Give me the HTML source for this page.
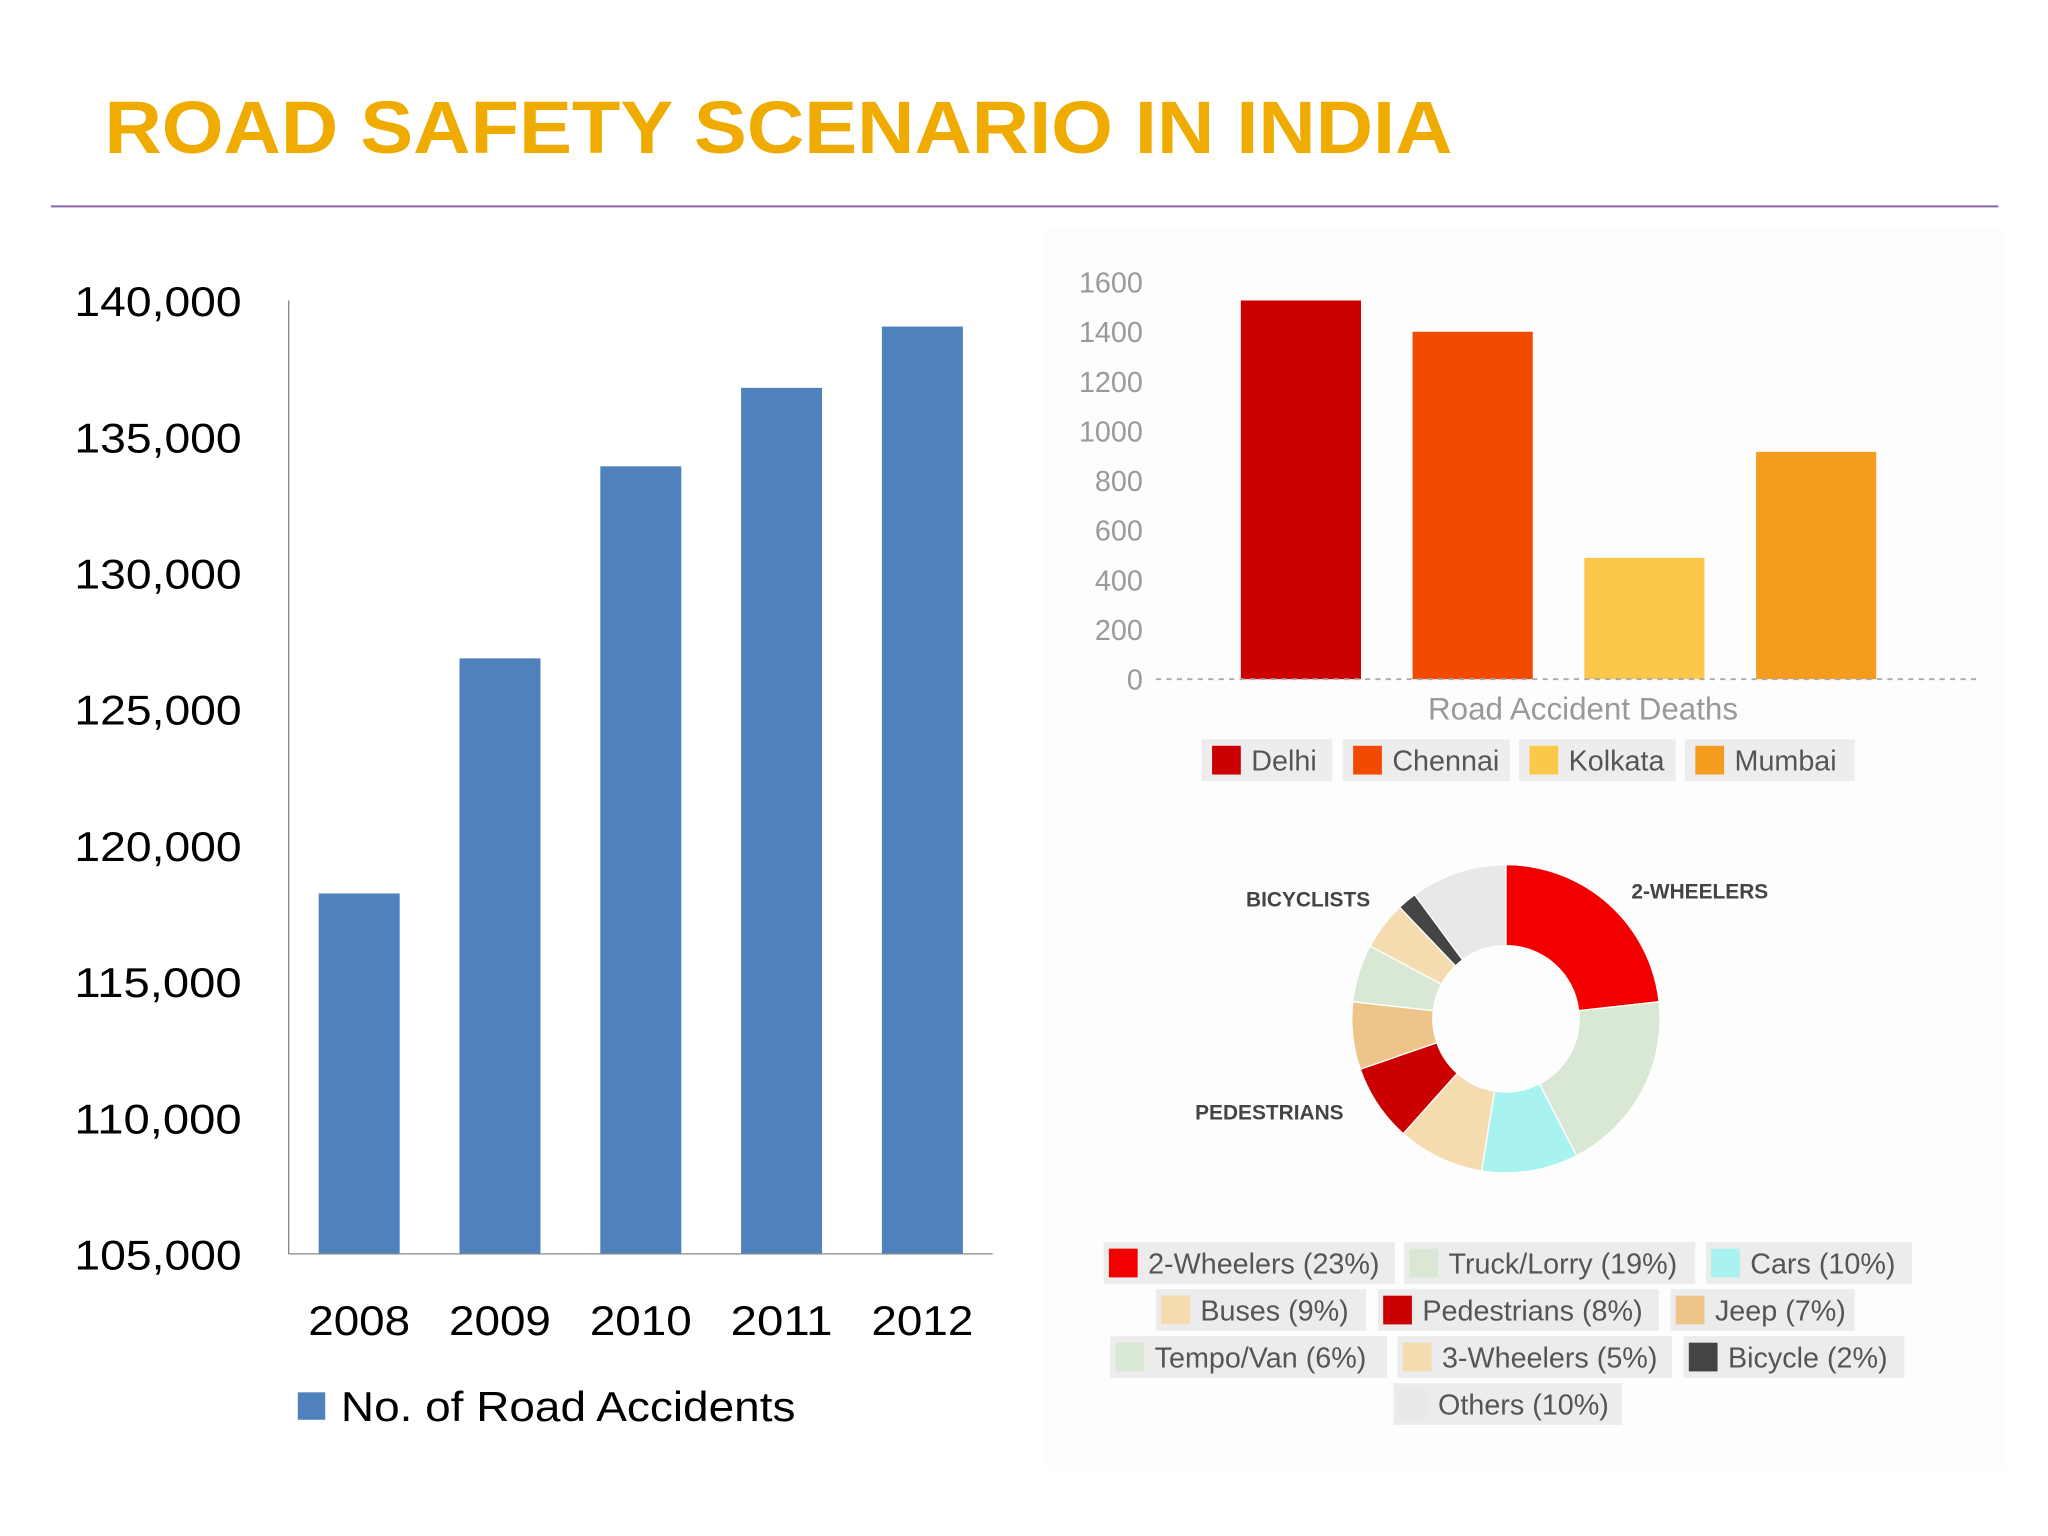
<!DOCTYPE html>
<html><head><meta charset="utf-8">
<style>html,body{margin:0;padding:0;background:#fff}svg{display:block}</style></head>
<body>
<svg id="s" width="2048" height="1536" viewBox="0 0 1568 1176" xmlns="http://www.w3.org/2000/svg" font-family="Liberation Sans, sans-serif">
<rect width="1568" height="1176" fill="#fff"/>
<rect x="800" y="175" width="735" height="950" fill="#fdfdfd"/>
<text x="80" y="117" font-size="57" font-weight="bold" fill="#f0ab00" textLength="1032" lengthAdjust="spacingAndGlyphs">ROAD SAFETY SCENARIO IN INDIA</text>
<line x1="39" y1="158" x2="1530" y2="158" stroke="#8a64a8" stroke-width="1.5"/>
<g id="left"></g><g id="right"></g><g id="donut"></g>
</svg>
<script>
const ns="http://www.w3.org/2000/svg";
function mk(p,t,a,txt){const e=document.createElementNS(ns,t);for(const k in a)e.setAttribute(k,a[k]);if(txt!==undefined)e.textContent=txt;p.appendChild(e);return e;}
// Left chart data
const years=["2008","2009","2010","2011","2012"];
const accidents=[118230,126860,133910,136790,139040];
const leftTicks=[105000,110000,115000,120000,125000,130000,135000,140000];
// Right bar data
const cities=["Delhi","Chennai","Kolkata","Mumbai"];
const deaths=[1526,1400,489,916];
const cityColors=["#cc0000","#f24a00","#fcc84c","#f59b1d"];
const rightTicks=[0,200,400,600,800,1000,1200,1400,1600];
// Donut data
const vehicles=["2-Wheelers","Truck/Lorry","Cars","Buses","Pedestrians","Jeep","Tempo/Van","3-Wheelers","Bicycle","Others"];
const shares=[23,19,10,9,8,7,6,5,2,10];
const vehColors=["#f20000","#d8e8d4","#a8f2f0","#f5dcb0","#cc0000","#edc48a","#d8e8d4","#f5dcb0","#444444","#e8e8e8"];

// left chart
const L=document.getElementById('left');
const ly=v=>960-(v-105000)/35000*730;
const lx=i=>275+i*107.8;
leftTicks.forEach(t=>{const e=mk(L,'text',{x:185,y:ly(t)+12,'text-anchor':'end','font-size':32,fill:'#000',textLength:128,lengthAdjust:'spacingAndGlyphs'},t.toLocaleString('en-US'));

});
const ax=mk(L,'line',{x1:221,y1:230,x2:221,y2:960,stroke:'#888','stroke-width':1});


accidents.forEach((v,i)=>{const b=mk(L,'rect',{x:lx(i)-31,y:ly(v),width:62,height:960-ly(v),fill:'#4f81bd'});


const t=mk(L,'text',{x:lx(i),y:1022,'text-anchor':'middle','font-size':32,fill:'#000',textLength:78,lengthAdjust:'spacingAndGlyphs'},years[i]);

});
const bx=mk(L,'line',{x1:221,y1:960,x2:760,y2:960,stroke:'#888','stroke-width':1});


const ls=mk(L,'rect',{x:228,y:1066,width:21,height:21,fill:'#4f81bd'});


const lt=mk(L,'text',{x:261,y:1088,'font-size':32,fill:'#000',textLength:348,lengthAdjust:'spacingAndGlyphs'},'No. of Road Accidents');



// right bar chart
const R=document.getElementById('right');
const ry=v=>520-v/1600*304;
const rx=i=>996+i*131.5;
rightTicks.forEach(t=>{const e=mk(R,'text',{x:875,y:ry(t)+8,'text-anchor':'end','font-size':22,fill:'#999'},String(t));

});
deaths.forEach((v,i)=>{const b=mk(R,'rect',{x:rx(i)-46,y:ry(v),width:92,height:520-ry(v),fill:cityColors[i]});

});
const dl=mk(R,'line',{x1:885,y1:520,x2:1515,y2:520,stroke:'#aaa','stroke-width':1.5,'stroke-dasharray':'4,4'});


const rt=mk(R,'text',{x:1212,y:551,'text-anchor':'middle','font-size':24,fill:'#999'},'Road Accident Deaths');


const legX=[920,1028,1163,1290], legW=[100,128,120,130];
cities.forEach((c,i)=>{const g=mk(R,'g',{});


mk(g,'rect',{x:legX[i],y:566,width:legW[i],height:32,fill:'#ededed'});
mk(g,'rect',{x:legX[i]+8,y:571,width:22,height:22,fill:cityColors[i]});
mk(g,'text',{x:legX[i]+38,y:590,'font-size':22,fill:'#555'},c);});

// donut
const D=document.getElementById('donut');
const cx=1153,cy=780,Ro=118,Ri=56;
const tot=shares.reduce((a,b)=>a+b,0);
let acc=0;
shares.forEach((s,i)=>{const a0=acc/tot*2*Math.PI,a1=(acc+s)/tot*2*Math.PI;acc+=s;
const p=(r,a)=>[cx+r*Math.sin(a),cy-r*Math.cos(a)];
const [x0,y0]=p(Ro,a0),[x1,y1]=p(Ro,a1),[x2,y2]=p(Ri,a1),[x3,y3]=p(Ri,a0);
const lg=(a1-a0)>Math.PI?1:0;
const e=mk(D,'path',{d:`M${x0},${y0}A${Ro},${Ro} 0 ${lg} 1 ${x1},${y1}L${x2},${y2}A${Ri},${Ri} 0 ${lg} 0 ${x3},${y3}Z`,fill:vehColors[i],stroke:'#fff','stroke-width':1});

});
[['2-WHEELERS',1249,688],['BICYCLISTS',954,694],['PEDESTRIANS',915,857]].forEach(l=>{
const t=mk(D,'text',{x:l[1],y:l[2],'font-size':16,'font-weight':'bold',fill:'#444'},l[0]);

});
const dLeg=[[845,967,223],[1075,967,223],[1306,967,158],[885,1003,161],[1055,1003,215],[1279,1003,141],[850,1039,212],[1070,1039,210],[1289,1039,169],[1067,1075,175]];
vehicles.forEach((v,i)=>{const [x,y,w]=dLeg[i];const g=mk(D,'g',{});


mk(g,'rect',{x:x,y:y-16,width:w,height:32,fill:'#ececec'});
mk(g,'rect',{x:x+4,y:y-11,width:22,height:22,fill:vehColors[i]});
mk(g,'text',{x:x+34,y:y+8,'font-size':22,fill:'#555'},v+' ('+shares[i]+'%)');});
</script>
</body></html>
